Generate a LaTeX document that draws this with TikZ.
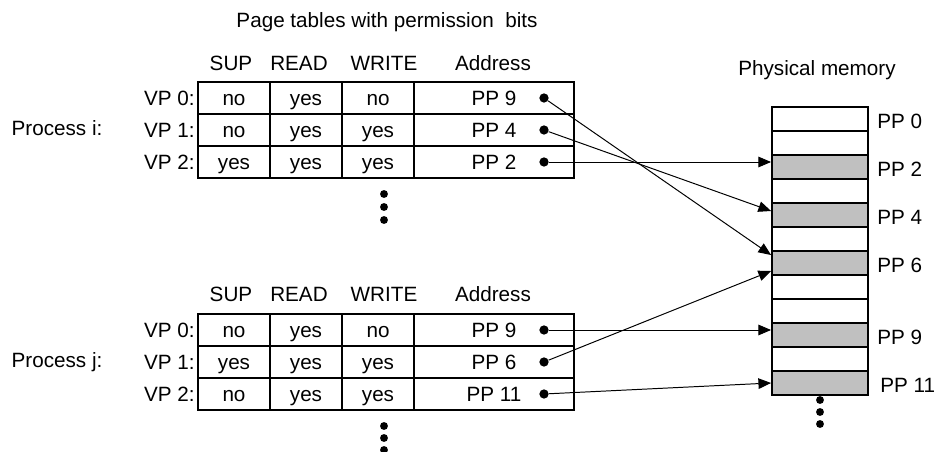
\documentclass[tikz,border=0pt]{standalone}
\usepackage{fontspec}
\setmainfont{Liberation Sans}
\usetikzlibrary{arrows.meta, calc}
\definecolor{pagegray}{RGB}{192,192,192}

% one row of a page table (#2 = top edge, in pixels)
\newcommand{\ptrow}[7]{%
    \draw[cell_line] (198,#2) rectangle (574,{#2+32});
    % Vertical dividers between SUP / READ / WRITE / Address
    \draw[cell_line] (270,#2) -- (270,{#2+32});
    \draw[cell_line] (342,#2) -- (342,{#2+32});
    \draw[cell_line] (414,#2) -- (414,{#2+32});
    % Row label and cell texts
    \node[vp_label] (#1vp) at (195,{#2+24}) {#3};
    \node[txt] (#1sup) at (234,{#2+24}) {#4};
    \node[txt] (#1rd) at (306,{#2+24}) {#5};
    \node[txt] (#1wr) at (378,{#2+24}) {#6};
    \node[txt] (#1pp) at (494,{#2+24}) {#7};
    % Pointer origin
    \node[ptr_dot] (#1dot) at (544,{#2+16}) {};
}

% column headings of a page table (#2 = baseline)
\newcommand{\pthead}[2]{%
    \node[txt] (#1sup) at (231,#2) {SUP};
    \node[txt] (#1rd) at (299,#2) {READ};
    \node[txt] (#1wr) at (384,#2) {WRITE};
    \node[txt] (#1addr) at (493,#2) {Address};
}

\begin{document}
\begin{tikzpicture}[
        x=0.025cm, y=-0.025cm,
        font=\fontsize{14.7}{17}\selectfont,
        cell_line/.style={line width=0.9pt},
        txt/.style={anchor=base, inner sep=0pt},
        vp_label/.style={anchor=base east, inner sep=0pt},
        ptr_dot/.style={circle, fill=black, inner sep=0pt, minimum size=6.6pt},
        mem_cell/.style={draw, line width=1.3pt, fill=white, minimum width=2.4cm, minimum height=0.6cm, inner sep=0pt},
        arrow_style/.style={-{Triangle[length=9pt, width=7.5pt]}, line width=0.7pt}
    ]
    \useasboundingbox (0,0) rectangle (936,452);

    % =========================================================================
    % 1. TITLES
    % =========================================================================
    \node[txt] (title) at (387,28) {Page tables with permission\ \ bits};
    \node[txt] (memtitle) at (817,76) {Physical memory};

    % =========================================================================
    % 2. PAGE TABLE OF PROCESS i
    % =========================================================================
    \pthead{hi}{71}
    \ptrow{i0}{82}{VP 0:}{no}{yes}{no}{PP 9}
    \ptrow{i1}{114}{VP 1:}{no}{yes}{yes}{PP 4}
    \ptrow{i2}{146}{VP 2:}{yes}{yes}{yes}{PP 2}
    \node[txt] (proci) at (57,136) {Process i:};
    \foreach \d in {0,1,2}
        \fill (384,{194+13*\d}) circle (2.8pt);

    % =========================================================================
    % 3. PAGE TABLE OF PROCESS j
    % =========================================================================
    \pthead{hj}{302}
    \ptrow{j0}{314}{VP 0:}{no}{yes}{no}{PP 9}
    \ptrow{j1}{346}{VP 1:}{yes}{yes}{yes}{PP 6}
    \ptrow{j2}{378}{VP 2:}{no}{yes}{yes}{PP 11}
    \node[txt] (procj) at (57,368) {Process j:};
    \foreach \d in {0,1,2}
        \fill (384,{426+12*\d}) circle (2.8pt);

    % =========================================================================
    % 4. PHYSICAL MEMORY
    % =========================================================================
    \foreach \k in {0,...,11}
        \node[mem_cell] (mem\k) at (820,{119+24*\k}) {};
    \foreach \k in {2,4,6,9,11}
        \node[mem_cell, fill=pagegray] at (mem\k) {};
    \foreach \k in {0,2,4,6,9}
        \node[anchor=base west, inner sep=0pt] (lbl\k) at (877,{129+24*\k}) {PP \k};
    \node[anchor=base west, inner sep=0pt] (lbl11) at (880,393) {PP 11};
    \foreach \d in {0,1,2}
        \fill (820,{400+12*\d}) circle (2.8pt);

    % =========================================================================
    % 5. POINTERS (Page table entries to physical pages)
    % =========================================================================
    \draw[arrow_style] (i0dot) -- ($(mem6.west)+(0,-8)$);
    \draw[arrow_style] (i1dot) -- ($(mem4.west)+(0,-4)$);
    \draw[arrow_style] (i2dot) -- (i2dot -| mem2.west);
    \draw[arrow_style] (j0dot) -- (j0dot -| mem9.west);
    \draw[arrow_style] (j1dot) -- ($(mem6.west)+(0,8)$);
    \draw[arrow_style] (j2dot) -- (mem11.west);

\end{tikzpicture}
\end{document}
